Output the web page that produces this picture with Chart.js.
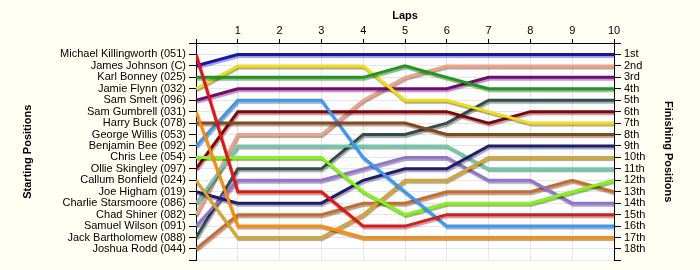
<!DOCTYPE html>
<html>
<head>
<meta charset="utf-8">
<script src="https://cdn.jsdelivr.net/npm/chart.js@4"></script>
<style>
  body { margin: 0; background: #fffff4; }
  #wrap { width: 700px; height: 270px; }
</style>
</head>
<body>
<div id="wrap"><canvas id="raceChart"></canvas></div>
<script>
// laps on the top axis
var laps = [0, 1, 2, 3, 4, 5, 6, 7, 8, 9, 10];

// left axis, in starting order
var startingGrid = [
    'Michael Killingworth (051)', 'James Johnson (C)', 'Karl Bonney (025)',
    'Jamie Flynn (032)', 'Sam Smelt (096)', 'Sam Gumbrell (031)',
    'Harry Buck (078)', 'George Willis (053)', 'Benjamin Bee (092)',
    'Chris Lee (054)', 'Ollie Skingley (097)', 'Callum Bonfield (024)',
    'Joe Higham (019)', 'Charlie Starsmoore (086)', 'Chad Shiner (082)',
    'Samuel Wilson (091)', 'Jack Bartholomew (088)', 'Joshua Rodd (044)'
];

// right axis
var finishLabels = ['1st', '2nd', '3rd', '4th', '5th', '6th', '7th', '8th', '9th',
    '10th', '11th', '12th', '13th', '14th', '15th', '16th', '17th', '18th'];

// position at each lap (lap 0 = grid)
var killingworth = [1, 13, 13, 13, 16, 16, 15, 15, 15, 15, 15];
var johnson      = [2, 1, 1, 1, 1, 1, 1, 1, 1, 1, 1];
var bonney       = [3, 3, 3, 3, 3, 2, 3, 4, 4, 4, 4];
var flynn        = [4, 2, 2, 2, 2, 5, 5, 6, 7, 7, 7];
var smelt        = [5, 4, 4, 4, 4, 4, 4, 3, 3, 3, 3];
var gumbrell     = [6, 16, 16, 16, 17, 17, 17, 17, 17, 17, 17];
var buck         = [7, 7, 7, 7, 7, 7, 8, 8, 8, 8, 8];
var willis       = []; // no laps recorded
var bee          = [9, 5, 5, 5, 10, 13, 16, 16, 16, 16, 16];
var lee          = [10, 10, 10, 10, 13, 15, 14, 14, 14, 13, 12];
var skingley     = [11, 6, 6, 6, 6, 6, 6, 7, 6, 6, 6];
var bonfield     = [12, 17, 17, 17, 15, 12, 12, 10, 10, 10, 10];
var higham       = [13, 14, 14, 14, 12, 11, 11, 9, 9, 9, 9];
var starsmoore   = [14, 9, 9, 9, 9, 9, 9, 11, 11, 11, 11];
var shiner       = [15, 8, 8, 8, 5, 3, 2, 2, 2, 2, 2];
var wilson       = [16, 12, 12, 12, 11, 10, 10, 12, 12, 14, 14];
var bartholomew  = [17, 11, 11, 11, 8, 8, 7, 5, 5, 5, 5];
var rodd         = [18, 15, 15, 15, 14, 14, 13, 13, 13, 12, 13];

var driverLaps = [killingworth, johnson, bonney, flynn, smelt, gumbrell, buck, willis, bee,
    lee, skingley, bonfield, higham, starsmoore, shiner, wilson, bartholomew, rodd];

var lineColours = ['#ee1111', '#1010d0', '#10a010', '#f2e200', '#800080', '#ff8c00',
    '#8b4513', '#888888', '#3399ff', '#7cfc00', '#8b0000', '#daa520', '#1c1c78',
    '#66cdaa', '#f8a080', '#9370db', '#2f4f4f', '#d2691e'];

var datasets = [];
$each = function (arr, fn) { for (var i = 0; i < arr.length; i++) fn(i, arr[i]); };
$each(driverLaps, function (i, pos) {
    var pts = [];
    $each(pos, function (j, p) { pts.push({ x: laps[j], y: p }); });
    datasets.push({
        label: startingGrid[i],
        data: pts,
        borderColor: lineColours[i],
        borderWidth: 3,
        pointRadius: 0,
        tension: 0,
        fill: false
    });
});

var backdrop = {
    id: 'backdrop',
    beforeDraw: function (chart) {
        var ctx = chart.ctx, a = chart.chartArea;
        ctx.save();
        ctx.fillStyle = '#fffff4';
        ctx.fillRect(0, 0, chart.width, chart.height);
        ctx.fillStyle = '#ffffff';
        ctx.fillRect(a.left, a.top, a.right - a.left, a.bottom - a.top);
        ctx.restore();
    }
};

var lineShadow = {
    id: 'lineShadow',
    beforeDatasetDraw: function (chart) {
        var c = chart.ctx;
        c.save();
        c.shadowColor = 'rgba(0,0,0,0.35)';
        c.shadowBlur = 1;
        c.shadowOffsetX = 1;
        c.shadowOffsetY = 2;
    },
    afterDatasetDraw: function (chart) {
        chart.ctx.restore();
    }
};

var tickFont = { family: '"Liberation Sans", Arial, sans-serif', size: 11 };
var titleFont = { family: '"Liberation Sans", Arial, sans-serif', size: 11, weight: 'bold' };

var ctx = document.getElementById('raceChart');

var chartGraph = new Chart(ctx, {
    type: 'line',
    data: { datasets: datasets },
    plugins: [backdrop, lineShadow],
    options: {
        responsive: true,
        maintainAspectRatio: false,
        animation: false,
        layout: { padding: { left: 0, right: 0, top: 0, bottom: 8 } },
        plugins: { legend: { display: false }, tooltip: { enabled: false } },
        scales: {
            x: {
                type: 'linear',
                position: 'top',
                min: 0,
                max: 10,
                afterFit: function (s) { s.height = 43; },
                ticks: {
                    stepSize: 1,
                    color: '#000',
                    font: tickFont,
                    padding: 1,
                    callback: function (v) { return v === 0 ? '' : v; }
                },
                grid: { color: '#e6e6e6', tickColor: '#000', tickLength: 4 },
                border: { color: '#000', width: 1 },
                title: { display: true, text: 'Laps', color: '#000', font: titleFont, padding: { top: 9, bottom: 0 } }
            },
            y: {
                type: 'linear',
                position: 'left',
                reverse: true,
                min: 0,
                max: 19,
                afterFit: function (s) { s.width = 196; },
                ticks: {
                    stepSize: 1,
                    autoSkip: false,
                    color: '#000',
                    font: tickFont,
                    padding: 3,
                    callback: function (v) { return startingGrid[v - 1] || ''; }
                },
                grid: { color: '#e6e6e6', tickColor: '#000', tickLength: 7 },
                border: { color: '#000', width: 1 },
                title: { display: true, text: 'Starting Positions', color: '#000', font: titleFont, padding: { top: 21, bottom: 0 } }
            },
            y2: {
                type: 'linear',
                position: 'right',
                reverse: true,
                min: 0,
                max: 19,
                afterFit: function (s) { s.width = 86; },
                ticks: {
                    stepSize: 1,
                    autoSkip: false,
                    color: '#000',
                    font: tickFont,
                    padding: 3,
                    callback: function (v) { return finishLabels[v - 1] || ''; }
                },
                grid: { drawOnChartArea: false, tickColor: '#000', tickLength: 7 },
                border: { color: '#000', width: 1 },
                title: { display: true, text: 'Finishing Positions', color: '#000', font: titleFont, padding: { top: 25, bottom: 0 } }
            }
        }
    }
});
</script>
</body>
</html>
